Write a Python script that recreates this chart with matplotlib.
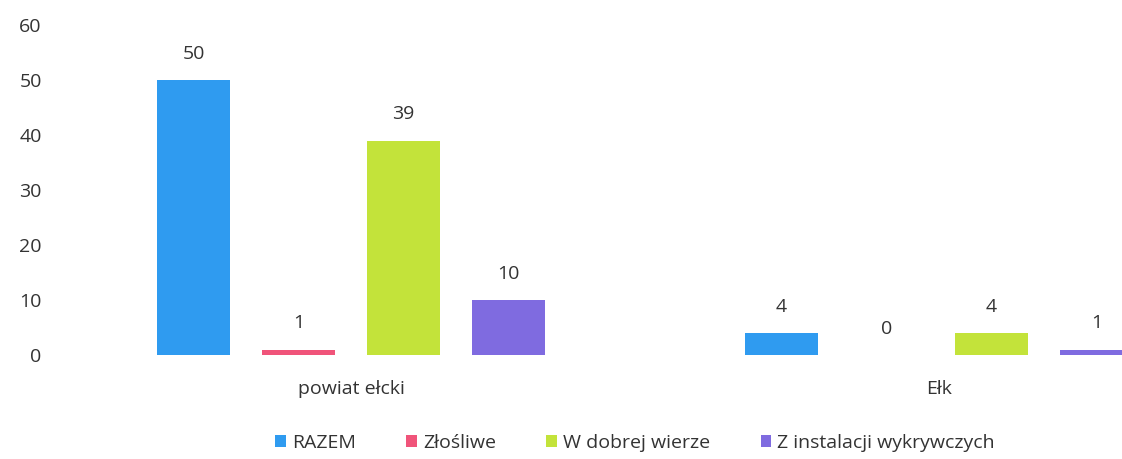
import matplotlib
matplotlib.use("Agg")
import matplotlib.pyplot as plt
import numpy as np

categories = ["powiat ełcki", "Ełk"]
series_names = ["RAZEM", "Złośliwe", "W dobrej wierze", "Z instalacji wykrywczych"]
razem = [50, 4]
zlosliwe = [1, 0]
dobra_wiara = [39, 4]
instalacje = [10, 1]
colors = ["#2f9bf0", "#f0547a", "#c3e33a", "#7f6be0"]

plt.rcParams['font.family'] = ['Open Sans', 'DejaVu Sans']

fig = plt.figure(figsize=(11.22, 4.59), dpi=100)
ax = fig.add_axes([57/1122, (459-355)/459, 1 - 57/1122, (355-25)/459])

x = np.arange(len(categories))
spacing = 0.1786
width = 0.125
all_series = [razem, zlosliwe, dobra_wiara, instalacje]
for i, (name, vals, c) in enumerate(zip(series_names, all_series, colors)):
    pos = x + (i - 1.5) * spacing
    h = [v if v > 0 else 0 for v in vals]
    ax.bar(pos, h, width=width, color=c, label=name)
    for p, v in zip(pos, vals):
        ax.annotate(str(v), (p, v), xytext=(0, 19), textcoords="offset points",
                    ha="center", va="center", fontsize=14, color="#333333")

ax.set_xlim(-0.5, (1122 - 351) / 588)
ax.set_ylim(0, 60)
ax.set_yticks(range(0, 61, 10))
ax.set_xticks(x)
ax.set_xticklabels(categories)
ax.tick_params(axis='y', length=0, labelsize=14, labelcolor="#333333", pad=11)
ax.tick_params(axis='x', length=0, labelsize=14, labelcolor="#333333", pad=18)
for s in ax.spines.values():
    s.set_visible(False)

fig.legend(loc="center", bbox_to_anchor=(635/1122, 1 - 443/459), ncol=4,
           frameon=False, fontsize=14, handlelength=0.55, handleheight=0.55,
           handletextpad=0.3, columnspacing=2.6, labelcolor="#333333")

fig.savefig("out.png", dpi=100)
